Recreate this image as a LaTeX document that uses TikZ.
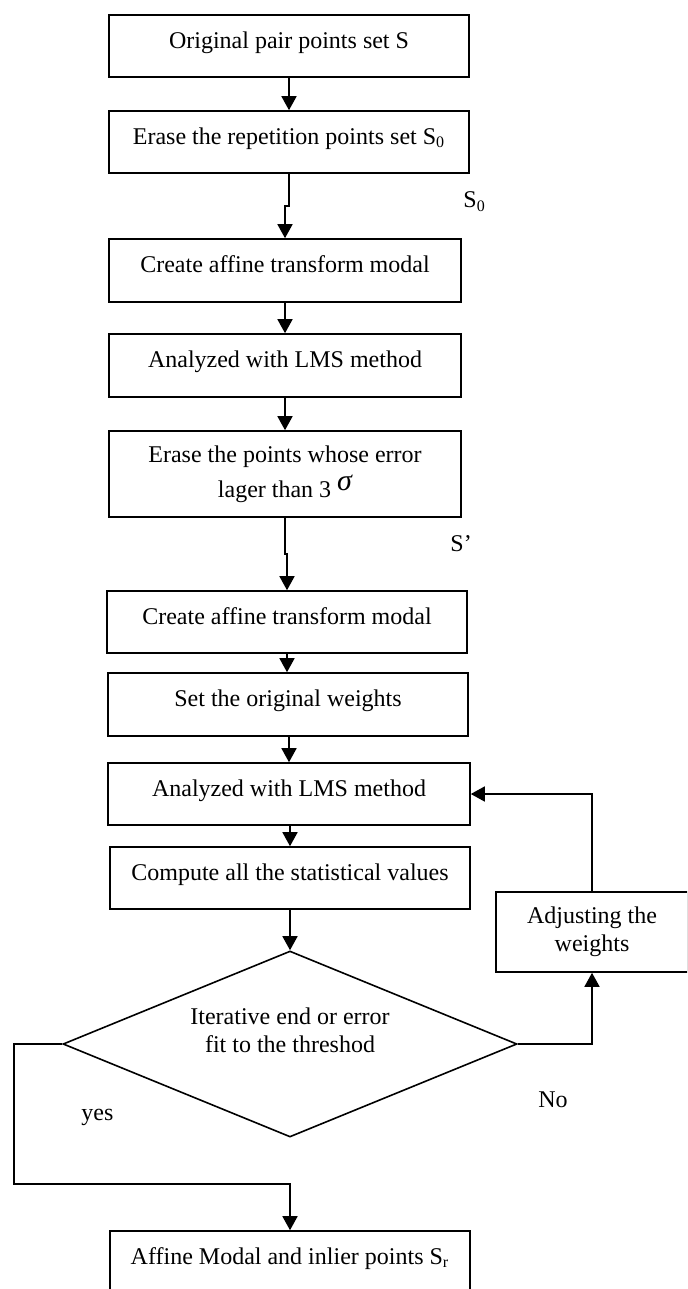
\documentclass[tikz,border=0pt]{standalone}
\usepackage{fontspec}
\setmainfont{Liberation Serif}
\usetikzlibrary{shapes.geometric,arrows.meta}

\tikzset{
  flowline/.style={line width=0.8pt},
  arr/.style={flowline, -{Triangle[length=7pt,width=7.5pt]}},
  basefont/.style={font=\fontsize{12}{14}\selectfont},
  stepbox/.style={draw, flowline, rectangle, inner sep=0pt, basefont,
                  text height=8pt, text depth=5.7pt},
  tallbox/.style={draw, flowline, rectangle, inner sep=0pt, basefont, align=center},
  decision/.style={draw, flowline, diamond, inner sep=0pt},
  lbl/.style={basefont, inner sep=0pt, anchor=base west},
}

\begin{document}
\begin{tikzpicture}[x=0.5pt,y=-0.5pt]
  \useasboundingbox (0,0) rectangle (687,1289);
  \clip (0,0) rectangle (687,1289);

  % process steps
  \node[stepbox, minimum width=180pt, minimum height=31pt] (b1) at (289,46)
    {Original pair points set S};
  \node[stepbox, minimum width=180pt, minimum height=31pt] (b2) at (289,142)
    {Erase the repetition points set S\textsubscript{0}};
  \node[stepbox, minimum width=176pt, minimum height=31.5pt] (b3) at (285,270.5)
    {Create affine transform modal};
  \node[stepbox, minimum width=176pt, minimum height=31.5pt] (b4) at (285,365.5)
    {Analyzed with LMS method};
  \node[tallbox, minimum width=176pt, minimum height=43pt] (b5) at (285,474)
    {Erase the points whose error\\[3.5pt]lager than 3 \raisebox{3.5pt}{\fontsize{15}{15}\selectfont\itshape σ}};
  \node[stepbox, minimum width=180pt, minimum height=31pt] (b6) at (287,622)
    {Create affine transform modal};
  \node[stepbox, minimum width=180pt, minimum height=31.5pt] (b7) at (288,704.5)
    {Set the original weights};
  \node[stepbox, minimum width=181pt, minimum height=31pt] (b8) at (289,794)
    {Analyzed with LMS method};
  \node[stepbox, minimum width=180pt, minimum height=31pt] (b9) at (290,878)
    {Compute all the statistical values};

  % decision
  \node[decision, minimum width=227pt, minimum height=93pt] (dec) at (290,1044) {};
  \node[basefont, align=center, inner sep=0pt] (dectext) at (290,1030)
    {Iterative end or error\\fit to the threshod};

  % weight update
  \node[tallbox, minimum width=96pt, minimum height=40pt] (adj) at (592,932)
    {Adjusting the\\weights};

  % result
  \node[stepbox, minimum width=180pt, minimum height=31pt] (sr) at (290,1262)
    {Affine Modal and inlier points S\textsubscript{r}};

  % side labels
  \node[lbl] (s0lbl) at (463,208) {S\textsubscript{0}};
  \node[lbl] (sprime) at (450,551) {S’};
  \node[lbl] (nolbl) at (538,1107) {No};
  \node[lbl] (yeslbl) at (81,1120) {yes};

  % connectors
  \draw[arr] (b1.south) -- (b2.north);
  \draw[arr] (b2.south) -- ++(0,32) -| (b3.north);
  \draw[arr] (b3.south) -- (b4.north);
  \draw[arr] (b4.south) -- (b5.north);
  \draw[arr] (b5.south) -- ++(0,36) -| (b6.north);
  \draw[arr] (b6.south) -- (b6.south |- b7.north);
  \draw[arr] (b8.north |- b7.south) -- (b8.north);
  \draw[arr] (b9.north |- b8.south) -- (b9.north);
  \draw[arr] (b9.south) -- (dec.north);
  \draw[arr] (dec.east) -| (adj.south);
  \draw[arr] (adj.north) |- (b8.east);
  \coordinate (yescorner) at (14,1184);
  \draw[arr] (dec.west) -| (yescorner) -| (sr.north);
\end{tikzpicture}
\end{document}
